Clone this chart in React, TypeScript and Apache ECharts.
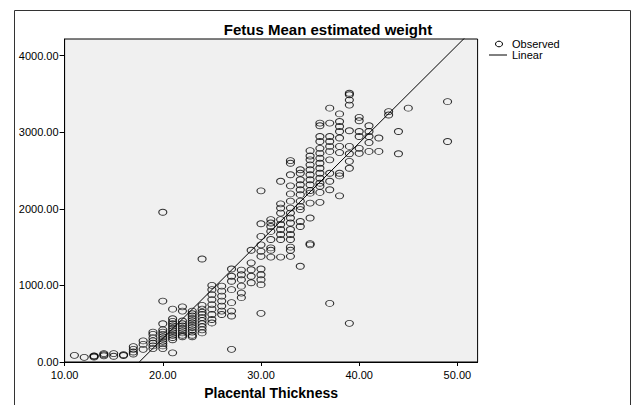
import React, { useEffect, useRef } from "react";
import * as echarts from "echarts";

// Observed data: placental thickness (mm) -> fetal mean estimated weight (g)
const observedGroups: [number, number[]][] = [
  [11, [87]],
  [12, [61]],
  [13, [65, 75, 80]],
  [14, [80, 95, 110]],
  [15, [75, 110]],
  [16, [85, 95]],
  [17, [200, 165, 130, 105]],
  [18, [275, 230, 165]],
  [19, [390, 360, 315, 275, 245, 210, 175]],
  [20, [1955, 795, 500, 420, 390, 360, 330, 300, 270, 240, 210, 175]],
  [21, [690, 565, 530, 500, 470, 440, 410, 380, 350, 320, 290, 120]],
  [22, [720, 665, 535, 500, 470, 440, 410, 380, 350, 330]],
  [23, [665, 630, 600, 570, 540, 510, 480, 450, 420, 390, 350, 330]],
  [24, [1345, 740, 690, 650, 620, 580, 540, 500, 460, 420, 380]],
  [25, [1000, 945, 880, 815, 750, 690, 620, 555, 510]],
  [26, [990, 925, 860, 795, 730, 665, 620]],
  [27, [1215, 1120, 1055, 945, 775, 665, 600, 165]],
  [28, [1200, 1140, 1075, 990, 900, 840]],
  [29, [1460, 1295, 1205, 1120, 1035]],
  [30, [2235, 1805, 1640, 1530, 1445, 1380, 1215, 1140, 1075, 1010, 635]],
  [31, [1860, 1815, 1770, 1705, 1600, 1490, 1460, 1370]],
  [32, [2360, 2065, 2010, 1945, 1860, 1795, 1730, 1665, 1600, 1370]],
  [33, [2630, 2595, 2445, 2300, 2195, 2100, 2010, 1945, 1880, 1815, 1730, 1665, 1600, 1500, 1460, 1380]],
  [34, [2510, 2465, 2380, 2315, 2250, 2185, 2100, 2030, 1990, 1835, 1770, 1250]],
  [35, [2760, 2690, 2640, 2575, 2510, 2445, 2380, 2315, 2240, 2205, 2075, 1880, 1545, 1530]],
  [36, [3120, 3085, 2945, 2880, 2790, 2725, 2660, 2595, 2530, 2465, 2400, 2335, 2295, 2215, 2085]],
  [37, [3315, 3120, 2945, 2880, 2815, 2750, 2640, 2465, 2360, 2250, 765]],
  [38, [3240, 3140, 3075, 3010, 2925, 2815, 2735, 2465, 2430, 2170]],
  [39, [3510, 3490, 3420, 3355, 3020, 2815, 2720, 2620, 2530, 505]],
  [40, [3195, 3150, 3010, 2945, 2790, 2725]],
  [41, [3085, 3010, 2945, 2865, 2750]],
  [42, [2925, 2750]],
  [43, [3270, 3225]],
  [44, [3010, 2720]],
  [45, [3315]],
  [49, [3400, 2880]],
];

// Linear fit: weight = intercept + slope * thickness
const fitIntercept = -2248;
const fitSlope = 127.7;
const fitRange = [17.6, 52];

const xTicks = [10, 20, 30, 40, 50];
const yTicks = [0, 1000, 2000, 3000, 4000];
const xRange = [10, 52.06];
const yRange = [0, 4218];

const titleText = "Fetus Mean estimated weight";
const xAxisTitle = "Placental Thickness";
const legendNames = ["Observed", "Linear"];

const ellipse = "path://M0,50 A50,50 0 1,1 100,50 A50,50 0 1,1 0,50 Z";
const FONT = "'Liberation Sans', Arial, sans-serif";

export default function App() {
  const ref = useRef<HTMLDivElement>(null);
  useEffect(() => {
    if (!ref.current) return;
    const chart = echarts.init(ref.current, null, { renderer: "svg" });
    const scatterData: number[][] = [];
    observedGroups.forEach(([x, ys]) => ys.forEach((y) => scatterData.push([x, y])));
    const lineData = fitRange.map((x) => [x, fitIntercept + fitSlope * x]);

    chart.setOption({
      animation: false,
      backgroundColor: "#ffffff",
      textStyle: { fontFamily: FONT },
      title: {
        text: titleText,
        left: 323,
        top: 17,
        textAlign: "center",
        textStyle: { fontSize: 15, fontWeight: "bold", color: "#000", fontFamily: FONT },
      },
      grid: {
        left: 64.6,
        top: 39,
        right: 155.4,
        bottom: 42.3,
        show: true,
        backgroundColor: "#f0f0f0",
        borderColor: "#000",
        borderWidth: 1,
      },
      xAxis: {
        type: "value",
        min: xRange[0],
        max: xRange[1],
        name: xAxisTitle,
        nameLocation: "middle",
        nameGap: 24,
        nameTextStyle: { fontSize: 14, fontWeight: "bold", color: "#000", fontFamily: FONT },
        splitLine: { show: false },
        axisLine: { show: true, lineStyle: { color: "#000" } },
        axisTick: { show: true, length: 4, lineStyle: { color: "#000" }, customValues: xTicks },
        axisLabel: {
          customValues: xTicks,
          formatter: (v: number) => v.toFixed(2),
          fontSize: 11,
          color: "#000",
          margin: 7,
          fontFamily: FONT,
        },
      },
      yAxis: {
        type: "value",
        min: yRange[0],
        max: yRange[1],
        splitLine: { show: false },
        axisLine: { show: true, lineStyle: { color: "#000" } },
        axisTick: { show: true, length: 5, lineStyle: { color: "#000" }, customValues: yTicks },
        axisLabel: {
          customValues: yTicks,
          formatter: (v: number) => v.toFixed(2),
          fontSize: 11,
          color: "#000",
          margin: 6,
          fontFamily: FONT,
        },
      },
      series: [
        {
          name: legendNames[0],
          type: "scatter",
          data: scatterData,
          symbol: ellipse,
          symbolSize: [8, 6],
          itemStyle: { color: "rgba(0,0,0,0)", borderColor: "#000", borderWidth: 1 },
          z: 2,
        },
        {
          name: legendNames[1],
          type: "line",
          data: lineData,
          showSymbol: false,
          clip: true,
          lineStyle: { color: "#000", width: 1 },
          z: 3,
        },
      ],
      graphic: [
        {
          type: "rect",
          shape: { x: 14.5, y: 10.5, width: 616, height: 420 },
          style: { fill: "none", stroke: "#333", lineWidth: 1 },
          silent: true,
          z: -1,
        },
        {
          type: "ellipse",
          shape: { cx: 499, cy: 44, rx: 3.5, ry: 2.8 },
          style: { fill: "none", stroke: "#000", lineWidth: 1 },
        },
        {
          type: "text",
          x: 512,
          y: 44,
          style: { text: legendNames[0], fontSize: 11, fill: "#000", font: `11px ${FONT}`, verticalAlign: "middle" },
        },
        {
          type: "line",
          shape: { x1: 489, y1: 55, x2: 507, y2: 55 },
          style: { stroke: "#000", lineWidth: 1 },
        },
        {
          type: "text",
          x: 512,
          y: 55,
          style: { text: legendNames[1], fontSize: 11, fill: "#000", font: `11px ${FONT}`, verticalAlign: "middle" },
        },
      ],
    });
    return () => chart.dispose();
  }, []);
  return <div ref={ref} style={{ width: 633, height: 405, position: "fixed", left: 0, top: 0 }} />;
}
